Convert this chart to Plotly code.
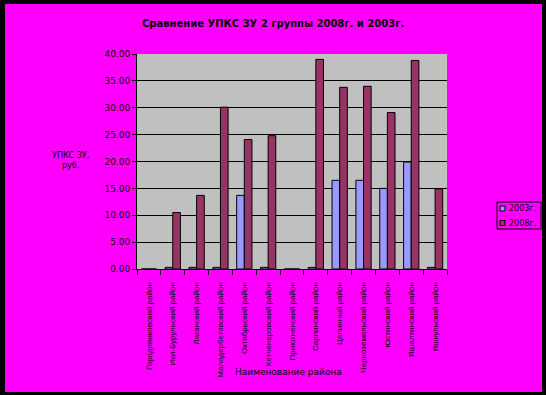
import plotly.graph_objects as go

categories = [
    "Городовиковский район", "Ики-Бурульский район", "Лаганский район",
    "Малодербетовский район", "Октябрьский район", "Кетченеровский район",
    "Приютненский район", "Сарпинский район", "Целинный район",
    "Черноземельский район", "Юстинский район", "Яшалтинский район",
    "Яшкульский район",
]
series_names = ["2003г.", "2008г."]
series_colors = ["#9999FF", "#993366"]
values_2003 = [0.0, 0.3, 0.3, 0.3, 13.7, 0.3, 0.0, 0.3, 16.5, 16.5, 15.0, 19.9, 0.3]
values_2008 = [0.0, 10.5, 13.7, 30.1, 24.1, 24.8, 0.0, 39.0, 33.8, 34.0, 29.1, 38.8, 14.9]
y_ticks = [0, 5, 10, 15, 20, 25, 30, 35, 40]

W, H = 546, 395
L, R, T, B = 137, 99, 54, 126
PW, PH = W - L - R, H - T - B


def px(x):
    return (x - L) / PW


def py(y):
    return (H - B - y) / PH


FONT = "Liberation Sans, Arial, sans-serif"
WIDE = "DejaVu Sans, Verdana, sans-serif"

fig = go.Figure()
for name, vals, col in zip(series_names, [values_2003, values_2008], series_colors):
    fig.add_trace(go.Bar(x=categories, y=vals, name=name, showlegend=False,
                         marker=dict(color=col, line=dict(color="black", width=1))))

shapes = []
# black frame
for x0, y0, x1, y1 in [(0, 0, 5, H), (0, 0, W, 4), (W - 4, 0, W, H), (0, H - 3, W, H)]:
    shapes.append(dict(type="rect", xref="paper", yref="paper",
                       x0=px(x0), x1=px(x1), y0=py(y0), y1=py(y1),
                       fillcolor="black", line=dict(width=0), layer="above"))
# manual legend box
shapes.append(dict(type="rect", xref="paper", yref="paper",
                   x0=px(497), x1=px(541), y0=py(202), y1=py(229),
                   fillcolor="#FF00FF", line=dict(color="black", width=1)))
annotations = []
for i, (name, col) in enumerate(zip(series_names, series_colors)):
    yc = 208.5 + i * 14.5
    shapes.append(dict(type="rect", xref="paper", yref="paper",
                       x0=px(500), x1=px(505), y0=py(yc - 2.5), y1=py(yc + 2.5),
                       fillcolor=col, line=dict(color="black", width=1)))
    annotations.append(dict(text=name, xref="paper", yref="paper",
                            x=px(507), y=py(yc), showarrow=False,
                            xanchor="left", yanchor="middle",
                            font=dict(family=WIDE, size=8, color="black")))

annotations += [
    dict(text="<b>Сравнение УПКС ЗУ 2 группы 2008г. и 2003г.</b>",
         xref="paper", yref="paper", x=px(273), y=py(23),
         showarrow=False, xanchor="center", yanchor="middle",
         font=dict(family=WIDE, size=10, color="black")),
    dict(text="УПКС ЗУ,<br>руб.", xref="paper", yref="paper",
         x=px(70), y=py(160), showarrow=False, xanchor="center", yanchor="middle",
         font=dict(family=WIDE, size=8, color="black")),
    dict(text="Наименование района", xref="paper", yref="paper",
         x=px(288), y=py(372), showarrow=False, xanchor="center", yanchor="middle",
         font=dict(family=WIDE, size=9, color="black")),
]

fig.update_layout(
    width=W, height=H,
    margin=dict(l=L, r=R, t=T, b=B, pad=0),
    paper_bgcolor="#FF00FF",
    plot_bgcolor="#C0C0C0",
    barmode="group",
    bargap=0.36,
    bargroupgap=0.0,
    showlegend=False,
    font=dict(family=FONT, size=8, color="black"),
    shapes=shapes,
    annotations=annotations,
)
fig.update_xaxes(
    type="category", tickangle=-90, tickson="boundaries",
    ticks="outside", ticklen=5, tickcolor="black",
    ticklabelstandoff=9,
    showline=True, linecolor="black", linewidth=1,
    showgrid=False, automargin=False,
    tickfont=dict(family=FONT, size=8, color="black"),
)
fig.update_yaxes(
    range=[0, 40], tickvals=y_ticks, tickformat=".2f",
    ticks="outside", ticklen=4, tickcolor="black",
    showline=True, linecolor="black", linewidth=1,
    showgrid=True, gridcolor="black", gridwidth=1,
    zeroline=False, automargin=False,
    tickfont=dict(family=WIDE, size=9, color="black"),
)

fig.write_html("out.html", config={"displayModeBar": False},
               post_script="document.body.style.margin='0px';document.body.style.overflow='hidden';")
